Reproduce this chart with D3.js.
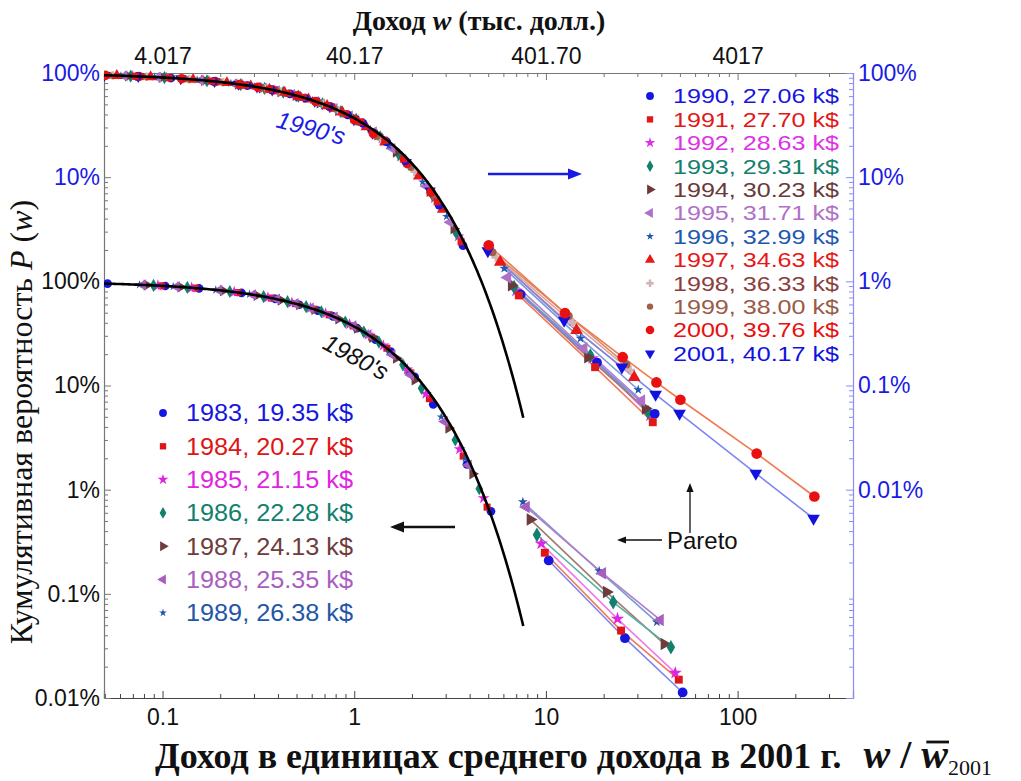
<!DOCTYPE html>
<html>
<head>
<meta charset="utf-8">
<script src="https://cdn.jsdelivr.net/npm/d3@7"></script>
<style>
  body { margin: 0; background: #fff; }
  svg { display: block; }
</style>
</head>
<body>
<svg id="chart" width="1021" height="781"></svg>
<script>
// Income thresholds of the IRS brackets, thousands of dollars
const thresholds = [1, 2, 3, 5, 7.5, 10, 12.5, 15, 20, 25, 30, 40, 50, 75, 100];
// Thresholds of the high-income (Pareto) brackets, thousands of dollars
const paretoThresholds = [200, 500, 1000, 1500, 2000, 5000, 10000];

// 1980's
const years80 = [1983, 1984, 1985, 1986, 1987, 1988, 1989];
const avg80 = [19.35, 20.27, 21.15, 22.28, 24.13, 25.35, 26.38];
const cumul80 = [
  [0.950, 0.902, 0.856, 0.773, 0.678, 0.596, 0.524, 0.461, 0.355, 0.275, 0.212, 0.121, 0.066, 0.0175, 0.0062],
  [0.952, 0.906, 0.862, 0.781, 0.691, 0.611, 0.540, 0.477, 0.373, 0.291, 0.228, 0.132, 0.0747, 0.021, 0.0068],
  [0.954, 0.910, 0.868, 0.790, 0.701, 0.623, 0.554, 0.492, 0.388, 0.307, 0.242, 0.143, 0.083, 0.0245, 0.0083],
  [0.956, 0.914, 0.874, 0.799, 0.714, 0.638, 0.571, 0.510, 0.407, 0.326, 0.260, 0.158, 0.094, 0.030, 0.0102],
  [0.959, 0.920, 0.883, 0.813, 0.733, 0.661, 0.596, 0.537, 0.436, 0.355, 0.289, 0.183, 0.113, 0.039, 0.0142],
  [0.962, 0.924, 0.889, 0.821, 0.744, 0.674, 0.611, 0.553, 0.454, 0.373, 0.306, 0.197, 0.126, 0.045, 0.0172],
  [0.963, 0.927, 0.892, 0.827, 0.753, 0.685, 0.623, 0.566, 0.469, 0.388, 0.321, 0.210, 0.136, 0.050, 0.020]
];
const tail80 = [
  [0.00209, 0.000375, 0.000113],
  [0.00248, 0.000444, 0.000150],
  [0.00303, 0.000575, 0.000174],
  [0.00369, 0.000832, 0.000307],
  [0.00518, 0.00104, 0.000330],
  [0.00682, 0.00158, 0.000562],
  [0.00762, 0.00166, 0.000535]
];
const colors80 = ["#1616e0", "#e01414", "#e024e0", "#12806c", "#6e3c3c", "#a85ec0", "#2456a8"];
const lines80 = ["#7f86f0", "#f07a5a", "#f07ae8", "#5ab0a0", "#a07a70", "#b080c8", "#7a9ad8"];
const marks80 = ["circle", "square", "star", "diamond", "triR", "triL", "dot"];

// 1990's
const years90 = [1990, 1991, 1992, 1993, 1994, 1995, 1996, 1997, 1998, 1999, 2000, 2001];
const avg90 = [27.06, 27.70, 28.63, 29.31, 30.23, 31.71, 32.99, 34.63, 36.33, 38.00, 39.76, 40.17];
const cumul90 = [
  [0.964, 0.929, 0.895, 0.831, 0.758, 0.691, 0.630, 0.575, 0.478, 0.397, 0.330, 0.218, 0.143, 0.054, 0.022],
  [0.965, 0.930, 0.898, 0.835, 0.763, 0.697, 0.637, 0.582, 0.486, 0.405, 0.339, 0.225, 0.149, 0.058, 0.024],
  [0.966, 0.932, 0.900, 0.839, 0.769, 0.705, 0.646, 0.592, 0.497, 0.418, 0.351, 0.236, 0.158, 0.063, 0.027],
  [0.966, 0.934, 0.903, 0.843, 0.774, 0.711, 0.653, 0.599, 0.506, 0.426, 0.359, 0.244, 0.165, 0.067, 0.029],
  [0.967, 0.936, 0.906, 0.848, 0.780, 0.718, 0.662, 0.609, 0.516, 0.437, 0.371, 0.255, 0.174, 0.073, 0.032],
  [0.969, 0.939, 0.910, 0.854, 0.789, 0.730, 0.674, 0.623, 0.532, 0.455, 0.388, 0.272, 0.188, 0.082, 0.037],
  [0.970, 0.941, 0.913, 0.859, 0.797, 0.739, 0.685, 0.635, 0.546, 0.469, 0.403, 0.287, 0.200, 0.090, 0.042],
  [0.972, 0.944, 0.917, 0.866, 0.805, 0.749, 0.697, 0.649, 0.561, 0.486, 0.421, 0.304, 0.216, 0.102, 0.049],
  [0.973, 0.946, 0.921, 0.871, 0.814, 0.760, 0.709, 0.662, 0.576, 0.503, 0.438, 0.322, 0.232, 0.113, 0.056],
  [0.974, 0.949, 0.924, 0.876, 0.821, 0.769, 0.720, 0.674, 0.591, 0.518, 0.454, 0.338, 0.246, 0.124, 0.064],
  [0.975, 0.951, 0.927, 0.882, 0.828, 0.777, 0.730, 0.686, 0.605, 0.533, 0.470, 0.354, 0.262, 0.136, 0.072],
  [0.975, 0.951, 0.928, 0.883, 0.830, 0.780, 0.733, 0.689, 0.608, 0.537, 0.474, 0.357, 0.265, 0.139, 0.074]
];
const tail90 = [
  [0.0075, 0.00166, 0.000535],
  [0.00733, 0.00150, 0.000444],
  [0.0081, 0.00182, 0.000515],
  [0.0088, 0.00194, 0.000554],
  [0.00916, 0.00187, 0.000600],
  [0.0109, 0.00228, 0.000718],
  [0.0133, 0.00283, 0.00091],
  [0.0153, 0.00338, 0.00120],
  [0.0171, 0.00402, 0.00140],
  [0.0190, 0.00465, 0.00159],
  [0.0222, 0.00495, 0.00187, 0.00107, 0.00073, 0.000222, 0.000086],
  [0.0196, 0.00422, 0.00150, 0.00082, 0.00054, 0.000143, 0.000053]
];
const colors90 = ["#1616e0", "#e01818", "#e030e8", "#12806c", "#6a3a3a", "#b070c8", "#2058b0", "#e81818", "#d2b4b4", "#a0604c", "#e81010", "#1212e0"];
const text90 = ["#1616e0", "#e01818", "#e030e8", "#12806c", "#6a3a3a", "#b070c8", "#2058b0", "#e81818", "#8a3e3e", "#9a5a48", "#e81010", "#1212e0"];
const lines90 = ["#7f86f0", "#f07a5a", "#f07ae8", "#5ab0a0", "#a07a70", "#b080c8", "#7a9ad8", "#f07a5a", "#d8a8a0", "#d09070", "#f07a50", "#7f86f0"];
const marks90 = ["circle", "square", "star", "diamond", "triR", "triL", "dot", "triU", "plus", "circleS", "circleL", "triD"];
// series drawn last end up on top of the dense bulk of points
const order90 = [2, 3, 4, 5, 6, 8, 9, 7, 11, 10, 0, 1];
const order80 = [0, 1, 6, 4, 2, 5, 3];

// Axis ticks
const xTicks = [0.1, 1, 10, 100];
const xTickLabels = ["0.1", "1", "10", "100"];
const topTickLabels = ["4.017", "40.17", "401.70", "4017"];
const pTicks = [1, 0.1, 0.01, 0.001, 0.0001];
const pTickLabels = ["100%", "10%", "1%", "0.1%", "0.01%"];

const svg = d3.select("#chart");
const L = 104, R = 853, T = 73, B = 698;

const x = d3.scaleLog().domain([0.0495, 400]).range([L, R]);
const yLow = d3.scaleLog().domain([1e-4, 1e2]).range([B, T]);  // 1980's
const yUp = d3.scaleLog().domain([1e-6, 1]).range([B, T]);      // 1990's

const SANS = "'Liberation Sans', Arial, Helvetica, sans-serif";
const SERIF = "'Liberation Serif', 'Times New Roman', serif";
const BLUE = "#1a1ae6";
const TICK_FS = 23;

svg.append("defs").append("clipPath").attr("id", "plotClip")
  .append("rect").attr("x", L).attr("y", T - 6).attr("width", R - L).attr("height", B - T + 12);

// minor tick values for log axes
function minorTicks(lo, hi) {
  const out = [];
  for (let e = Math.floor(Math.log10(lo)); e <= Math.ceil(Math.log10(hi)); e++) {
    for (let k = 2; k <= 9; k++) {
      const v = k * Math.pow(10, e);
      if (v >= lo && v <= hi) out.push(v);
    }
  }
  return out;
}

function styleAxis(g, color) {
  g.select(".domain").attr("stroke", color).attr("stroke-width", 1.2);
  g.selectAll(".tick line").attr("stroke", color);
}

// ---- bottom axis
const gB = svg.append("g").attr("transform", `translate(0,${B})`)
  .call(d3.axisBottom(x).tickValues(xTicks).tickFormat((d, i) => xTickLabels[i]).tickSize(-7).tickPadding(11));
gB.selectAll("text").attr("font-family", SANS).attr("font-size", TICK_FS).attr("fill", "#111");
styleAxis(gB, "#444");
svg.append("g").attr("transform", `translate(0,${B})`)
  .call(d3.axisBottom(x).tickValues(minorTicks(0.0495, 400)).tickFormat("").tickSize(-4).tickSizeOuter(0))
  .call(g => { g.select(".domain").remove(); g.selectAll("line").attr("stroke", "#444"); });

// ---- top axis (income in thousand dollars for 2001)
const gT = svg.append("g").attr("transform", `translate(0,${T})`)
  .call(d3.axisTop(x).tickValues(xTicks).tickFormat((d, i) => topTickLabels[i]).tickSize(-7).tickPadding(9));
gT.selectAll("text").attr("font-family", SANS).attr("font-size", TICK_FS).attr("fill", "#111");
styleAxis(gT, "#777");
svg.append("g").attr("transform", `translate(0,${T})`)
  .call(d3.axisTop(x).tickValues(minorTicks(0.0495, 400)).tickFormat("").tickSize(-4).tickSizeOuter(0))
  .call(g => { g.select(".domain").remove(); g.selectAll("line").attr("stroke", "#777"); });

// ---- left axis: lower scale (black) + upper scale labels (blue)
const gL = svg.append("g").attr("transform", `translate(${L},0)`)
  .call(d3.axisLeft(yLow).tickValues(pTicks).tickFormat((d, i) => pTickLabels[i]).tickSize(-7).tickPadding(4));
gL.selectAll("text").attr("font-family", SANS).attr("font-size", TICK_FS).attr("fill", "#111");
styleAxis(gL, "#777");
svg.append("g").attr("transform", `translate(${L},0)`)
  .call(d3.axisLeft(yUp).tickValues(pTicks.slice(0, 2)).tickFormat((d, i) => pTickLabels[i]).tickSize(-7).tickPadding(4))
  .call(g => {
    g.select(".domain").remove();
    g.selectAll("line").attr("stroke", "#777");
    g.selectAll("text").attr("font-family", SANS).attr("font-size", TICK_FS).attr("fill", BLUE);
  });
svg.append("g").attr("transform", `translate(${L},0)`)
  .call(d3.axisLeft(yLow).tickValues(minorTicks(1e-4, 1e2)).tickFormat("").tickSize(-4).tickSizeOuter(0))
  .call(g => { g.select(".domain").remove(); g.selectAll("line").attr("stroke", "#777"); });

// ---- right axis: upper scale (blue)
const gR = svg.append("g").attr("transform", `translate(${R},0)`)
  .call(d3.axisRight(yUp).tickValues(pTicks).tickFormat((d, i) => pTickLabels[i]).tickSize(-7).tickPadding(5));
gR.selectAll("text").attr("font-family", SANS).attr("font-size", TICK_FS).attr("fill", BLUE);
styleAxis(gR, "#8c8cf4");
svg.append("g").attr("transform", `translate(${R},0)`)
  .call(d3.axisRight(yUp).tickValues(minorTicks(1e-6, 1)).tickFormat("").tickSize(-4).tickSizeOuter(0))
  .call(g => { g.select(".domain").remove(); g.selectAll("line").attr("stroke", "#8c8cf4"); });

// ---- marker shapes
const symTypes = {
  circle: [d3.symbolCircle, 60, 0], square: [d3.symbolSquare, 50, 0], star: [d3.symbolStar, 44, 0],
  diamond: [d3.symbolDiamond, 50, 0], triR: [d3.symbolTriangle, 54, 90], triL: [d3.symbolTriangle, 54, -90],
  dot: [d3.symbolStar, 24, 0], triU: [d3.symbolTriangle, 56, 0], plus: [d3.symbolCross, 40, 0],
  circleS: [d3.symbolCircle, 40, 0], circleL: [d3.symbolCircle, 72, 0], triD: [d3.symbolTriangle, 56, 180]
};
function marker(sel, kind, color, scale) {
  const [type, size, rot] = symTypes[kind];
  sel.append("path")
    .attr("d", d3.symbol().type(type).size(size * (scale || 1))())
    .attr("transform", d => `translate(${d[0]},${d[1]}) rotate(${rot})`)
    .attr("fill", color);
}

const plot = svg.append("g").attr("clip-path", "url(#plotClip)");
const inDomain = v => v >= x.domain()[0] && v <= x.domain()[1];

function drawPanel(avgs, cumul, tails, marks, colors, lineColors, yScale, order) {
  // Pareto tails: connecting lines
  order.forEach(s => {
    const a = avgs[s];
    const pts = tails[s].map((p, i) => [x(paretoThresholds[i] / a), yScale(p)]);
    plot.append("path").attr("d", d3.line()(pts)).attr("fill", "none")
      .attr("stroke", lineColors[s]).attr("stroke-width", 1.6);
  });
  // bulk of the distribution
  order.forEach(s => {
    const a = avgs[s];
    const pts = cumul[s].map((p, i) => [thresholds[i] / a, p]).filter(d => inDomain(d[0]))
      .map(d => [x(d[0]), yScale(d[1])]);
    plot.append("g").selectAll("g").data(pts).join("g").call(g => marker(g, marks[s], colors[s], 1));
  });
  // Pareto tail points
  order.forEach(s => {
    const a = avgs[s];
    const pts = tails[s].map((p, i) => [x(paretoThresholds[i] / a), yScale(p)]);
    plot.append("g").selectAll("g").data(pts).join("g").call(g => marker(g, marks[s], colors[s], 1.25));
  });
}

// Boltzmann–Gibbs law P(r) = exp(-r)
const bgLaw = r => Math.exp(-r);
const rGrid = d3.range(0, 201).map(i => 0.0495 * Math.pow(7.62 / 0.0495, i / 200));

drawPanel(avg80, cumul80, tail80, marks80, colors80, lines80, yLow, order80);
drawPanel(avg90, cumul90, tail90, marks90, colors90, lines90, yUp, order90);

[yUp, yLow].forEach(ys => {
  plot.append("path")
    .attr("d", d3.line().x(r => x(r)).y(r => ys(bgLaw(r)))(rGrid))
    .attr("fill", "none").attr("stroke", "#000").attr("stroke-width", 2.6);
});

// ---- legends
function legend(years, avgs, marks, colors, textColors, x0, y0, dy, fs, len) {
  years.forEach((yr, i) => {
    const y = y0 + i * dy;
    marker(svg.append("g").data([[x0, y]]), marks[i], colors[i], 0.8);
    svg.append("text").attr("x", x0 + 23).attr("y", y).attr("dy", "0.36em")
      .attr("font-family", SANS).attr("font-size", fs).attr("fill", textColors[i])
      .attr("textLength", len).attr("lengthAdjust", "spacingAndGlyphs")
      .text(`${yr}, ${avgs[i].toFixed(2)} k$`);
  });
}
legend(years90, avg90, marks90, colors90, text90, 650, 96, 23.4, 20.5, 166);
legend(years80, avg80, marks80, colors80, colors80, 163, 413, 33.3, 23.5, 167);

// ---- decade labels
svg.append("text").attr("transform", "translate(311,128) rotate(15)").attr("text-anchor", "middle")
  .attr("dy", "0.35em").attr("font-family", SANS).attr("font-style", "italic").attr("font-size", 24)
  .attr("fill", BLUE).text("1990's");
svg.append("text").attr("transform", "translate(356,357) rotate(28)").attr("text-anchor", "middle")
  .attr("dy", "0.35em").attr("font-family", SANS).attr("font-style", "italic").attr("font-size", 24)
  .attr("fill", "#111").text("1980's");

// ---- arrows
function arrow(x1, y1, x2, y2, color, w, head) {
  const ang = Math.atan2(y2 - y1, x2 - x1);
  const hx = x2 - head * Math.cos(ang), hy = y2 - head * Math.sin(ang);
  svg.append("line").attr("x1", x1).attr("y1", y1).attr("x2", hx).attr("y2", hy)
    .attr("stroke", color).attr("stroke-width", w);
  const px = Math.sin(ang) * head * 0.4, py = -Math.cos(ang) * head * 0.4;
  svg.append("path").attr("d", `M${x2},${y2}L${hx + px},${hy + py}L${hx - px},${hy - py}Z`).attr("fill", color);
}
arrow(488, 174, 582, 174, "#1a1ae6", 2.6, 14);
arrow(455, 527, 390, 527, "#111", 2.6, 14);
arrow(662, 540, 617, 540, "#111", 1.3, 9);
arrow(690, 533, 690, 483, "#111", 1.3, 9);
svg.append("text").attr("x", 667).attr("y", 540).attr("dy", "0.36em")
  .attr("font-family", SANS).attr("font-size", 24).attr("fill", "#111").text("Pareto");

// ---- titles
const topTitle = svg.append("text").attr("x", 479).attr("y", 30).attr("text-anchor", "middle")
  .attr("font-family", SERIF).attr("font-weight", "bold").attr("font-size", 28).attr("fill", "#111");
topTitle.append("tspan").text("Доход ");
topTitle.append("tspan").attr("font-style", "italic").text("w");
topTitle.append("tspan").text(" (тыс. долл.)");

const leftTitle = svg.append("text").attr("transform", "translate(32,422) rotate(-90)")
  .attr("text-anchor", "middle").attr("font-family", SERIF).attr("font-size", 32).attr("fill", "#111");
leftTitle.append("tspan").text("Кумулятивная вероятность ");
leftTitle.append("tspan").attr("font-style", "italic").text("P");
leftTitle.append("tspan").text(" (");
leftTitle.append("tspan").attr("font-style", "italic").text("w");
leftTitle.append("tspan").text(")");

const bottomTitle = svg.append("text").attr("x", 155).attr("y", 768)
  .attr("font-family", SERIF).attr("font-weight", "bold").attr("font-size", 36).attr("fill", "#111");
bottomTitle.append("tspan").text("Доход в единицах среднего дохода в 2001 г.");
bottomTitle.append("tspan").attr("font-style", "italic").attr("font-size", 40).attr("dx", 22).text("w");
bottomTitle.append("tspan").attr("font-size", 40).text(" / ");
const wbar = bottomTitle.append("tspan").attr("font-style", "italic").attr("font-size", 40).text("w");
bottomTitle.append("tspan").attr("font-weight", "normal").attr("font-size", 22).attr("dy", 7).text("2001");
// bar over the averaged w
const wb = wbar.node().getStartPositionOfChar(0), we = wbar.node().getEndPositionOfChar(0);
svg.append("line").attr("x1", wb.x + 5).attr("x2", we.x + 1).attr("y1", 742).attr("y2", 742)
  .attr("stroke", "#111").attr("stroke-width", 2.8);
</script>
</body>
</html>
